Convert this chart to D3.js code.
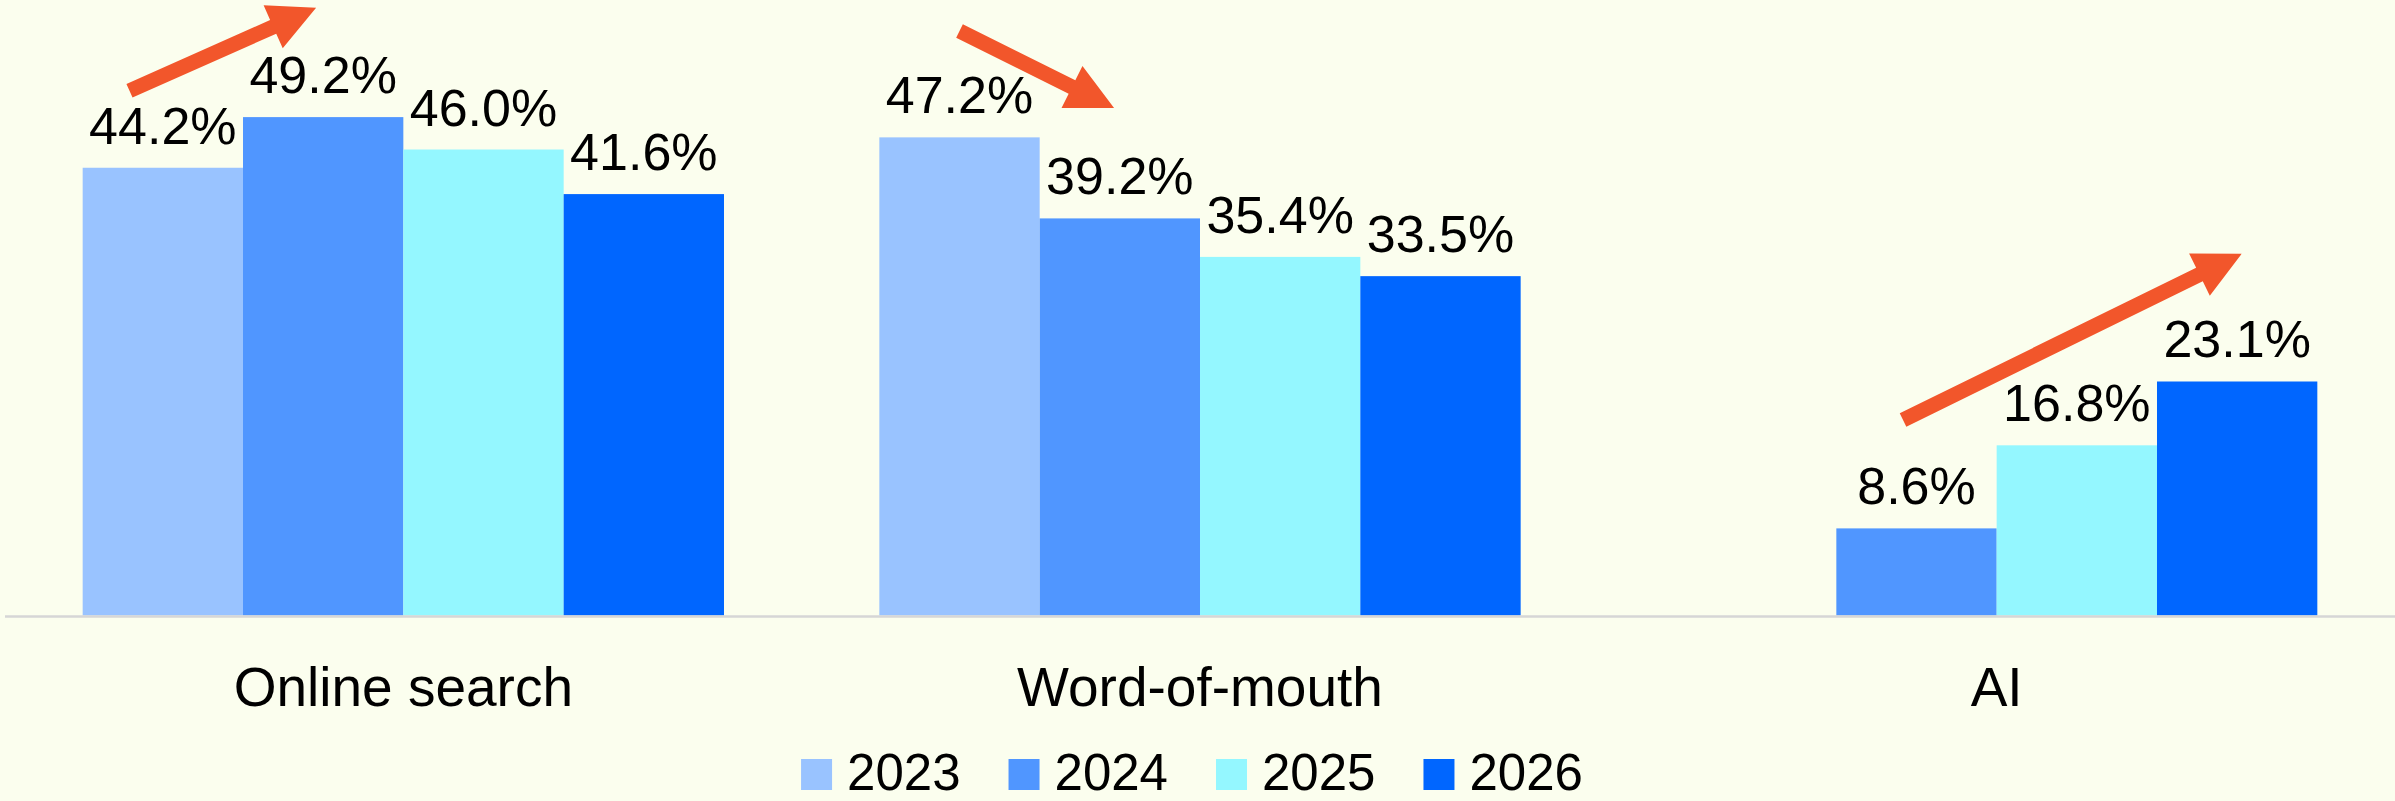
<!DOCTYPE html>
<html>
<head>
<meta charset="utf-8">
<script src="https://cdn.jsdelivr.net/npm/d3@7"></script>
<style>
  html, body { margin: 0; padding: 0; background: #fbfeee; }
  svg { display: block; }
  text { font-family: "Liberation Sans", Arial, sans-serif; fill: #000; }
</style>
</head>
<body>
<svg id="chart"></svg>
<script>
// data
const categories = ["Online search", "Word-of-mouth", "AI"]
const years = ["2023", "2024", "2025", "2026"]
const values = {
  "2023": [44.2, 47.2, null],
  "2024": [49.2, 39.2, 8.6],
  "2025": [46.0, 35.4, 16.8],
  "2026": [41.6, 33.5, 23.1]
}
const colors = ["#99c3ff", "#5096ff", "#94f7ff", "#0066ff"]

// trend arrows: [fraction across group, value] for tail and tip
const arrows = [
  { cat: "Online search", from: [0.073, 51.8], to: [0.364, 60.0] },
  { cat: "Word-of-mouth", from: [0.125, 57.7], to: [0.366, 50.1] },
  { cat: "AI", from: [0.354, 19.3], to: [0.882, 35.7] }
]

const width = 2395, height = 801
const baseY = 615.5

const svg = d3.select("#chart")
  .attr("width", width)
  .attr("height", height)

svg.append("rect")
  .attr("width", width)
  .attr("height", height)
  .attr("fill", "#fbfeee")

const x0 = d3.scaleBand()
  .domain(categories)
  .range([5, width])
  .paddingInner(0.195)
  .paddingOuter(0.0975)

const x1 = d3.scaleBand()
  .domain(years)
  .range([0, x0.bandwidth()])

const y = d3.scaleLinear()
  .domain([0, 60])
  .range([baseY, baseY - 60 * 10.13])

const color = d3.scaleOrdinal().domain(years).range(colors)

// flatten for drawing
const rows = []
categories.forEach((c, i) => {
  years.forEach(yr => {
    const v = values[yr][i]
    if (v != null) rows.push({ cat: c, year: yr, value: v })
  })
})

// bars
svg.append("g")
  .selectAll("rect")
  .data(rows)
  .enter()
  .append("rect")
  .attr("x", d => x0(d.cat) + x1(d.year))
  .attr("y", d => y(d.value))
  .attr("width", x1.bandwidth())
  .attr("height", d => y(0) - y(d.value))
  .attr("fill", d => color(d.year))

// baseline
svg.append("line")
  .attr("x1", 5)
  .attr("x2", width)
  .attr("y1", baseY + 1)
  .attr("y2", baseY + 1)
  .attr("stroke", "#d6d6d6")
  .attr("stroke-width", 2.5)

// value labels
svg.append("g")
  .selectAll("text")
  .data(rows)
  .enter()
  .append("text")
  .attr("x", d => x0(d.cat) + x1(d.year) + x1.bandwidth() / 2)
  .attr("y", d => y(d.value) - 24)
  .attr("text-anchor", "middle")
  .style("font-size", "52px")
  .text(d => d.value.toFixed(1) + "%")

// category labels
svg.append("g")
  .selectAll("text")
  .data(categories)
  .enter()
  .append("text")
  .attr("x", d => x0(d) + x0.bandwidth() / 2)
  .attr("y", 706)
  .attr("text-anchor", "middle")
  .style("font-size", "55px")
  .text(d => d)

// arrows
const shaftW = 15, headL = 47, headW = 47
arrows.forEach(a => {
  const gx = x0(a.cat), bw = x0.bandwidth()
  const p0 = [gx + a.from[0] * bw, y(a.from[1])]
  const p1 = [gx + a.to[0] * bw, y(a.to[1])]
  const dx = p1[0] - p0[0], dy = p1[1] - p0[1]
  const len = Math.sqrt(dx * dx + dy * dy)
  const ux = dx / len, uy = dy / len
  const nx = -uy, ny = ux
  const bx = p1[0] - ux * headL, by = p1[1] - uy * headL
  const pts = [
    [p0[0] + nx * shaftW / 2, p0[1] + ny * shaftW / 2],
    [bx + nx * shaftW / 2, by + ny * shaftW / 2],
    [bx + nx * headW / 2, by + ny * headW / 2],
    p1,
    [bx - nx * headW / 2, by - ny * headW / 2],
    [bx - nx * shaftW / 2, by - ny * shaftW / 2],
    [p0[0] - nx * shaftW / 2, p0[1] - ny * shaftW / 2]
  ]
  svg.append("path")
    .attr("d", d3.line()(pts) + "Z")
    .attr("fill", "#f2562b")
})

// legend
const legend = svg.append("g")
const items = legend.selectAll("g")
  .data(years)
  .enter()
  .append("g")

items.append("rect")
  .attr("width", 31)
  .attr("height", 31)
  .attr("y", 759)
  .attr("fill", d => color(d))

items.append("text")
  .attr("x", 46)
  .attr("y", 790)
  .style("font-size", "51px")
  .text(d => d)

let cursor = 0
const itemX = []
items.each(function () {
  const w = this.getBBox().width
  itemX.push(cursor)
  cursor += w + 48
})
const legendW = cursor - 48
const legendStart = 1192 - legendW / 2
items.attr("transform", (d, i) => `translate(${legendStart + itemX[i]},0)`)
</script>
</body>
</html>
